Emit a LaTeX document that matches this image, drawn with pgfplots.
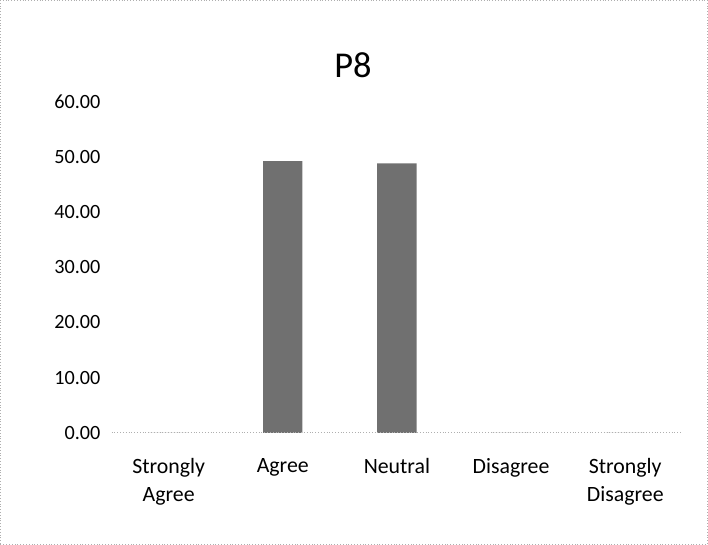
\documentclass[border=0pt]{standalone}
\usepackage{fontspec}
\setmainfont{Carlito}
\usepackage{pgfplots}
\pgfplotsset{compat=1.18}
\definecolor{barfill}{RGB}{112,112,112}
\definecolor{frame}{RGB}{175,175,175}
\begin{document}
\begin{tikzpicture}
\begin{axis}[
    at={(0,0)}, anchor=south west,
    scale only axis,
    width=282.5pt, height=164pt,
    xmin=-0.5, xmax=4.5,
    ymin=0, ymax=60,
    ytick={0,10,...,60},
    xtick={0,1,2,3,4},
    xticklabels={{Strongly\\Agree},Agree,Neutral,Disagree,{Strongly\\Disagree}},
    xticklabel style={align=center, anchor=north, yshift=-9pt, font=\fontsize{10.8}{14}\selectfont},
    yticklabel style={font=\fontsize{10}{11}\selectfont, xshift=-2pt},
    /pgf/number format/.cd, fixed, fixed zerofill, precision=2, assume math mode=true,
    /pgfplots/.cd,
    axis line style={draw=none},
    major tick length=0pt,
    clip=false,
]
\addplot[ybar, bar width=19.5pt, fill=barfill, draw=none] coordinates {
    (0,0) (1,49.2) (2,48.8) (3,0) (4,0)
};
\draw[frame, densely dotted] (axis cs:-0.5,0) -- (axis cs:4.5,0);
\end{axis}
\node[font=\fontsize{18}{20}\selectfont] at (119.5pt,182pt) {P8};
\draw[frame, densely dotted] (-55pt,-55pt) rectangle (295pt,214pt);
\end{tikzpicture}
\end{document}
